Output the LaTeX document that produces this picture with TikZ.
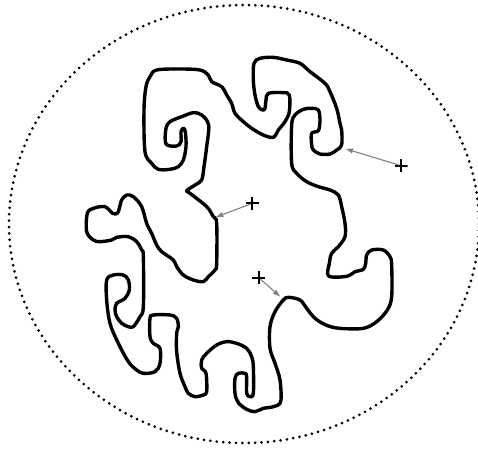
\documentclass[tikz,border=0pt]{standalone}
\usepackage{tikz}
\usetikzlibrary{arrows.meta}

\begin{document}
\begin{tikzpicture}[x=0.33333pt, y=-0.33333pt,
		outline/.style={line width=3.4pt, line join=round},
		boundary/.style={line width=3pt, dash pattern=on 0pt off 6.4pt, line cap=round},
		plusmark/.style={inner sep=0pt, minimum size=13pt,
			path picture={\draw[line width=1.8pt]
				(path picture bounding box.west) -- (path picture bounding box.east)
				(path picture bounding box.north) -- (path picture bounding box.south);}},
		pointer/.style={draw=gray, line width=1.1pt, shorten <=2pt,
			-{Latex[length=8pt,width=5.5pt,fill=gray]}}]
		\useasboundingbox (0,0) rectangle (1434,1347);
		
		% dotted boundary
		\draw[boundary] (732,672) ellipse [x radius=705, y radius=657];
		
		% the closed curve
		\draw[outline] plot[smooth cycle, tension=0.55] coordinates {
			(470,210) (540,207) (600,210) (625,225) (635,245) (665,260) (680,285)
			(695,310) (705,340) (730,365) (755,385) (790,405) (820,412) (835,390)
			(855,365) (868,335) (868,285) (850,278) (805,280) (798,300) (795,325)
			(788,330) (775,320) (765,285) (760,240) (762,190) (780,175) (820,172)
			(860,180) (900,190) (930,215) (975,250) (990,275) (1010,325) (1020,370)
			(1025,390) (1025,435) (1010,450) (990,462) (960,462) (940,450) (935,435)
			(935,400) (955,392) (960,360) (955,330) (935,325) (910,328) (885,345)
			(875,375) (875,490) (890,520) (920,545) (955,560) (990,570) (1015,585)
			(1025,620) (1035,670) (1035,710) (1015,740) (995,760) (988,790) (986,828)
			(1040,829) (1065,815) (1090,808) (1097,790) (1100,765) (1115,750) (1150,750)
			(1170,770) (1175,795) (1175,890) (1162,930) (1130,965) (1090,985) (1020,985)
			(980,976) (945,955) (920,925) (900,900) (865,892) (850,900) (825,935)
			(810,980) (810,1045) (825,1090) (840,1140) (842,1205) (820,1220) (790,1225)
			(765,1235) (740,1228) (715,1208) (705,1180) (705,1135) (715,1120) (735,1120)
			(740,1130) (740,1180) (750,1190) (760,1180) (760,1100) (755,1070) (740,1045)
			(710,1030) (680,1025) (650,1035) (620,1060) (605,1080) (605,1105) (618,1120)
			(620,1175) (610,1185) (585,1190) (565,1180) (555,1160) (540,1120) (530,1055)
			(530,1000) (535,980) (530,955) (510,945) (460,945) (450,955) (450,1010)
			(460,1030) (480,1045) (480,1090) (465,1115) (430,1120) (410,1110) (385,1085)
			(355,1030) (330,970) (320,900) (320,840) (340,825) (370,825) (385,840)
			(388,870) (375,895) (350,910) (345,930) (350,950) (365,970) (385,980)
			(400,980) (420,950) (430,920) (430,770) (425,750) (410,725) (385,710)
			(350,712) (335,720) (300,725) (280,720) (260,695) (262,640) (280,625)
			(315,620) (338,640) (352,640) (358,625) (365,600) (380,585) (400,590)
			(425,620) (440,670) (455,700) (470,735) (485,755) (520,780) (530,800)
			(550,825) (580,840) (610,845) (625,830) (645,810) (650,790) (650,670)
			(640,650) (620,620) (570,580) (560,572) (585,555) (605,540) (612,500)
			(620,440) (626,375) (605,345) (580,338) (545,350) (510,365) (498,385)
			(498,432) (530,438) (543,425) (543,395) (550,385) (556,395) (558,440)
			(550,480) (535,500) (510,508) (475,508) (455,490) (435,455) (432,330)
			(438,260) (450,230)};
		
		% marked points and their nearest points on the curve
		\node[plusmark] (pA) at (1203,497) {};
		\node[plusmark] (pB) at (757,610) {};
		\node[plusmark] (pC) at (776,833) {};
		\coordinate (tA) at (1035,446);
		\coordinate (tB) at (646,652);
		\coordinate (tC) at (842,891);
		\draw[pointer] (pA.center) -- (tA);
		\draw[pointer] (pB.center) -- (tB);
		\draw[pointer] (pC.center) -- (tC);
	\end{tikzpicture}
\end{document}
